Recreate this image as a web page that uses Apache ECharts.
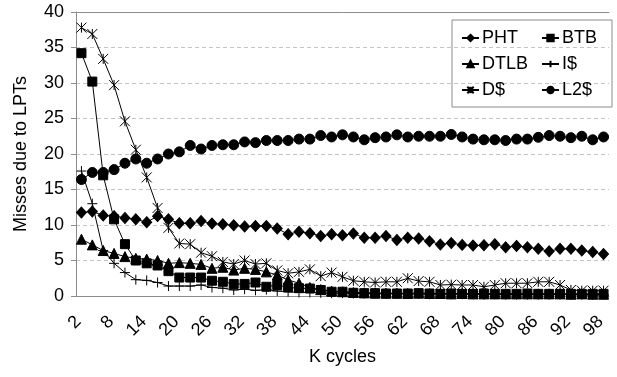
<!DOCTYPE html>
<html>
<head>
<meta charset="utf-8">
<script src="https://cdn.jsdelivr.net/npm/echarts@6/dist/echarts.min.js"></script>
<style>
  html, body { margin: 0; padding: 0; background: #fff; }
  #chart { width: 617px; height: 377px; }
</style>
</head>
<body>
<div id="chart"></div>
<script>
// K cycles, every 2
var cycles = ['2','4','6','8','10','12','14','16','18','20','22','24','26','28','30','32','34','36','38','40',
  '42','44','46','48','50','52','54','56','58','60','62','64','66','68','70','72','74','76','78','80',
  '82','84','86','88','90','92','94','96','98'];
// labelled ticks (every third cycle value shown)
var tickLabels = ['2','8','14','20','26','32','38','44','50','56','62','68','74','80','86','92','98'];

var pht = [11.75,11.9,11.35,11.25,11.0,10.8,10.4,11.25,10.8,10.25,10.25,10.55,10.2,10.1,9.95,9.8,9.85,9.85,9.5,8.7,
  9.05,8.85,8.45,8.7,8.55,8.8,8.2,8.2,8.45,7.9,8.2,8.1,7.7,7.25,7.45,7.2,7.1,7.15,7.3,6.85,
  7.05,6.85,6.65,6.3,6.65,6.65,6.4,6.2,5.9];
var btb = [34.2,30.2,17.0,10.8,7.3,5.0,4.6,4.3,3.5,2.6,2.6,2.6,2.15,2.0,1.7,1.7,1.9,1.3,1.55,1.2,
  1.1,1.05,0.85,0.6,0.6,0.45,0.4,0.4,0.35,0.35,0.35,0.4,0.35,0.3,0.35,0.3,0.3,0.35,0.3,0.3,
  0.3,0.35,0.3,0.3,0.3,0.3,0.3,0.3,0.3];
var dtlb = [8.0,7.2,6.4,6.0,5.55,5.3,5.2,5.0,4.6,4.7,4.6,4.45,3.9,4.05,3.65,3.9,3.75,3.4,2.95,2.25,
  1.8,1.2,0.9,0.7,0.6,0.5,0.45,0.4,0.4,0.4,0.35,0.4,0.35,0.35,0.3,0.35,0.3,0.3,0.3,0.3,
  0.3,0.3,0.3,0.3,0.3,0.25,0.3,0.25,0.25];
var icache = [17.6,13.0,6.4,4.6,3.3,2.3,2.2,1.9,1.4,1.4,1.4,1.55,1.2,1.1,0.85,0.95,0.8,0.9,0.7,0.6,
  0.5,0.5,0.45,0.4,0.4,0.35,0.35,0.3,0.3,0.3,0.3,0.3,0.25,0.3,0.25,0.25,0.25,0.2,0.25,0.2,
  0.2,0.2,0.2,0.2,0.2,0.2,0.2,0.2,0.2];
var dcache = [37.8,36.9,33.4,29.7,24.6,20.6,16.7,12.4,9.6,7.4,7.3,6.1,5.6,4.8,4.5,5.0,4.5,4.6,3.6,3.2,
  3.4,3.75,2.8,3.3,2.7,2.15,2.0,1.9,2.0,2.0,2.5,2.1,2.0,1.55,1.6,1.55,1.55,1.3,1.55,1.8,
  1.8,1.8,2.0,2.0,1.55,0.85,0.75,0.75,0.75];
var l2cache = [16.4,17.4,17.4,17.8,18.7,19.3,18.7,19.3,20.0,20.3,21.2,20.7,21.2,21.3,21.3,21.7,21.6,21.9,21.9,21.9,
  22.1,22.1,22.6,22.4,22.7,22.4,22.0,22.3,22.4,22.7,22.4,22.5,22.5,22.5,22.75,22.4,22.1,22.0,22.0,21.9,
  22.1,22.1,22.35,22.6,22.5,22.3,22.5,22.0,22.4];

var FONT = 'Liberation Sans, Arial, sans-serif';
var starPath = 'path://M10,0L10,20M0,0L20,20M0,20L20,0';
var plusPath = 'path://M0,10L20,10M10,0L10,20';

function mkSeries(name, data, symbol, size) {
  return {
    name: name,
    type: 'line',
    data: data,
    symbol: symbol,
    symbolSize: size,
    showAllSymbol: true,
    lineStyle: { color: '#000', width: 1 },
    itemStyle: { color: '#000', borderColor: '#000', borderWidth: 1 },
    emphasis: { disabled: true },
    animation: false
  };
}

var chart = echarts.init(document.getElementById('chart'));
var option = {
  animation: false,
  textStyle: { fontFamily: FONT },
  grid: { left: 76, right: 8, top: 12, bottom: 81 },
  legend: [{
    orient: 'vertical',
    left: 456, top: 24,
    itemWidth: 17, itemHeight: 8, itemGap: 8,
    textStyle: { fontSize: 18, color: '#000', fontFamily: FONT, padding: [0, 0, 0, -2] },
    data: ['PHT', 'DTLB', 'D$']
  }, {
    orient: 'vertical',
    left: 536, top: 24,
    itemWidth: 17, itemHeight: 8, itemGap: 8,
    textStyle: { fontSize: 18, color: '#000', fontFamily: FONT, padding: [0, 0, 0, -2] },
    data: ['BTB', 'I$', 'L2$']
  }],
  graphic: [{
    type: 'rect',
    shape: { x: 452, y: 20, width: 160, height: 87 },
    style: { fill: '#fff', stroke: '#8c8c8c', lineWidth: 1 },
    z: 0
  }],
  xAxis: [{
    type: 'category',
    data: cycles,
    name: 'K cycles',
    nameLocation: 'middle',
    nameGap: 52,
    nameTextStyle: { fontSize: 18, color: '#000', fontFamily: FONT },
    axisLine: { lineStyle: { color: '#8c8c8c' } },
    axisTick: { interval: 0, length: 5, lineStyle: { color: '#8c8c8c' } },
    axisLabel: { show: false },
    splitLine: { show: false }
  }, {
    type: 'category',
    data: cycles,
    position: 'top',
    axisLine: { lineStyle: { color: '#8c8c8c' } },
    axisTick: { show: false },
    axisLabel: { show: false }
  }],
  yAxis: {
    type: 'value',
    min: 0, max: 40, interval: 5,
    name: 'Misses due to LPTs',
    nameLocation: 'middle',
    nameGap: 46,
    nameTextStyle: { fontSize: 18, color: '#000', fontFamily: FONT },
    axisLine: { show: true, lineStyle: { color: '#8c8c8c' } },
    axisTick: { show: true, length: 5, lineStyle: { color: '#8c8c8c' } },
    axisLabel: { fontSize: 18, color: '#000', margin: 12, fontFamily: FONT },
    splitLine: { lineStyle: { color: '#c4c4c4', type: [4, 3] } }
  },
  series: [
    mkSeries('PHT', pht, 'diamond', [10, 11]),
    mkSeries('BTB', btb, 'rect', 9),
    mkSeries('DTLB', dtlb, 'triangle', 10),
    mkSeries('I$', icache, plusPath, 10),
    mkSeries('D$', dcache, starPath, 10),
    mkSeries('L2$', l2cache, 'circle', 10)
  ]
};
chart.setOption(option);

// rotated tick labels, placed through the x axis scale
var y0 = chart.convertToPixel({ yAxisIndex: 0 }, 0);
var labelEls = tickLabels.map(function (lab) {
  var px = chart.convertToPixel({ xAxisIndex: 0 }, lab);
  return {
    type: 'text',
    x: px - 3, y: y0 + 23,
    rotation: Math.PI / 4,
    style: { text: lab, font: '18px ' + FONT, fill: '#000', align: 'right', verticalAlign: 'middle' },
    silent: true
  };
});
chart.setOption({ graphic: option.graphic.concat(labelEls) });
</script>
</body>
</html>
